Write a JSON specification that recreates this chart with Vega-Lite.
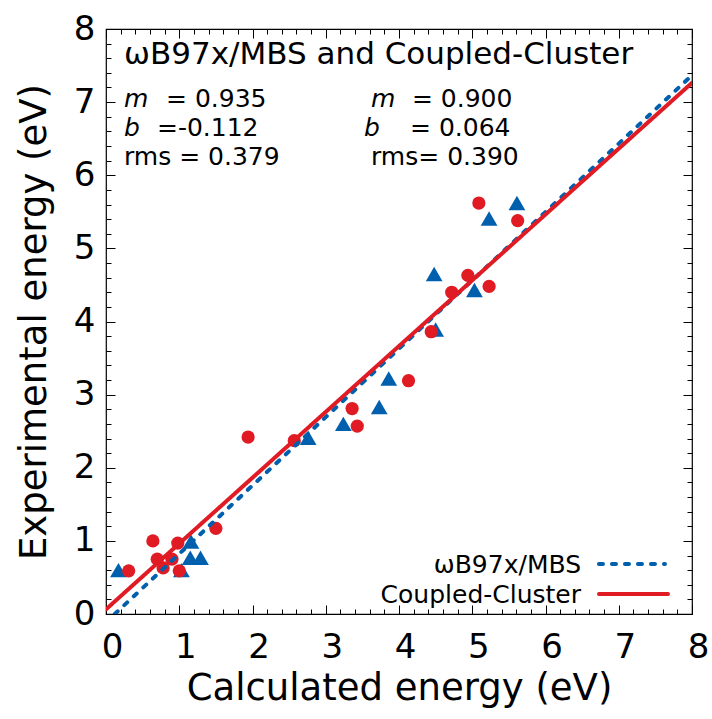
{
  "$schema": "https://vega.github.io/schema/vega-lite/v6.json",
  "width": 586,
  "height": 585,
  "autosize": {"type": "none"},
  "padding": {"left": 106, "top": 29, "right": 20, "bottom": 105},
  "background": "white",
  "config": {
    "font": "DejaVu Sans",
    "view": {"stroke": "#000", "strokeWidth": 1.2},
    "axis": {
      "domain": false, "grid": false, "tickColor": "#000", "tickWidth": 1,
      "labelColor": "#000", "titleColor": "#000", "labelFont": "DejaVu Sans", "titleFont": "DejaVu Sans",
      "labelFontSize": 34, "titleFontSize": 37, "titleFontWeight": "normal"
    },
    "text": {"font": "DejaVu Sans", "color": "#000"}
  },
  "data": {"values": [{}]},
  "datasets": {
    "points": [
      {"series": "ωB97x/MBS", "calc": 0.17, "exp": 0.60},
      {"series": "ωB97x/MBS", "calc": 1.03, "exp": 0.60},
      {"series": "ωB97x/MBS", "calc": 1.15, "exp": 0.77},
      {"series": "ωB97x/MBS", "calc": 1.29, "exp": 0.77},
      {"series": "ωB97x/MBS", "calc": 1.16, "exp": 0.99},
      {"series": "ωB97x/MBS", "calc": 2.76, "exp": 2.41},
      {"series": "ωB97x/MBS", "calc": 3.24, "exp": 2.60},
      {"series": "ωB97x/MBS", "calc": 3.73, "exp": 2.83},
      {"series": "ωB97x/MBS", "calc": 3.86, "exp": 3.22},
      {"series": "ωB97x/MBS", "calc": 4.50, "exp": 3.89},
      {"series": "ωB97x/MBS", "calc": 4.48, "exp": 4.65},
      {"series": "ωB97x/MBS", "calc": 5.03, "exp": 4.43},
      {"series": "ωB97x/MBS", "calc": 5.23, "exp": 5.41},
      {"series": "ωB97x/MBS", "calc": 5.61, "exp": 5.62},
      {"series": "Coupled-Cluster", "calc": 0.31, "exp": 0.59},
      {"series": "Coupled-Cluster", "calc": 0.64, "exp": 1.00},
      {"series": "Coupled-Cluster", "calc": 0.70, "exp": 0.75},
      {"series": "Coupled-Cluster", "calc": 0.78, "exp": 0.63},
      {"series": "Coupled-Cluster", "calc": 0.90, "exp": 0.75},
      {"series": "Coupled-Cluster", "calc": 0.98, "exp": 0.97},
      {"series": "Coupled-Cluster", "calc": 1.00, "exp": 0.59},
      {"series": "Coupled-Cluster", "calc": 1.50, "exp": 1.17},
      {"series": "Coupled-Cluster", "calc": 1.94, "exp": 2.42},
      {"series": "Coupled-Cluster", "calc": 2.57, "exp": 2.37},
      {"series": "Coupled-Cluster", "calc": 3.36, "exp": 2.81},
      {"series": "Coupled-Cluster", "calc": 3.43, "exp": 2.57},
      {"series": "Coupled-Cluster", "calc": 4.13, "exp": 3.19},
      {"series": "Coupled-Cluster", "calc": 4.44, "exp": 3.86},
      {"series": "Coupled-Cluster", "calc": 4.72, "exp": 4.40},
      {"series": "Coupled-Cluster", "calc": 4.94, "exp": 4.63},
      {"series": "Coupled-Cluster", "calc": 5.23, "exp": 4.48},
      {"series": "Coupled-Cluster", "calc": 5.09, "exp": 5.62},
      {"series": "Coupled-Cluster", "calc": 5.62, "exp": 5.38}
    ],
    "fits": [
      {"series": "ωB97x/MBS", "calc": 0.12, "exp": 0.0},
      {"series": "ωB97x/MBS", "calc": 8.0, "exp": 7.368},
      {"series": "Coupled-Cluster", "calc": 0.0, "exp": 0.064},
      {"series": "Coupled-Cluster", "calc": 8.0, "exp": 7.264}
    ]
  },
  "layer": [
    {
      "data": {"name": "points"},
      "mark": {"type": "point", "filled": true, "opacity": 1, "strokeWidth": 0},
      "encoding": {
        "x": {"field": "calc", "type": "quantitative", "scale": {"domain": [0, 8], "nice": false, "zero": false},
          "axis": {"orient": "top", "labels": false, "title": null, "values": [0,1,2,3,4,5,6,7,8], "tickSize": -9}},
        "y": {"field": "exp", "type": "quantitative", "scale": {"domain": [0, 8], "nice": false, "zero": false},
          "axis": {"orient": "right", "labels": false, "title": null, "values": [0,1,2,3,4,5,6,7,8], "tickSize": -9}},
        "fill": {"field": "series", "type": "nominal", "scale": {"range": ["#e01b24", "#0060ad"]}, "legend": null},
        "shape": {"field": "series", "type": "nominal", "scale": {"range": ["circle", "triangle-up"]}, "legend": null},
        "size": {"field": "series", "type": "ordinal", "scale": {"range": [175, 280]}, "legend": null}
      }
    },
    {
      "data": {"name": "fits"},
      "mark": {"type": "line", "strokeWidth": 4, "strokeCap": "round", "clip": true},
      "encoding": {
        "x": {"field": "calc", "type": "quantitative", "scale": {"domain": [0, 8], "nice": false, "zero": false},
          "axis": {"orient": "bottom", "title": "Calculated energy (eV)", "values": [0,1,2,3,4,5,6,7,8], "tickSize": -9, "labelPadding": 25, "labelOffset": 6, "labelFlush": false, "labelOverlap": false, "titlePadding": 6}},
        "y": {"field": "exp", "type": "quantitative", "scale": {"domain": [0, 8], "nice": false, "zero": false},
          "axis": {"orient": "left", "title": "Experimental energy (eV)", "values": [0,1,2,3,4,5,6,7,8], "tickSize": -9, "labelPadding": 20, "labelFlush": false, "labelOverlap": false, "titlePadding": 20}},
        "stroke": {"field": "series", "type": "nominal", "scale": {"domain": ["ωB97x/MBS", "Coupled-Cluster"], "range": ["#0060ad", "#e01b24"]}, "legend": null},
        "strokeDash": {"field": "series", "type": "nominal", "scale": {"domain": ["ωB97x/MBS", "Coupled-Cluster"], "range": [[4, 9], [1, 0]]}, "legend": null}
      }
    },
    {
      "mark": {"type": "rule", "stroke": "#0060ad", "strokeWidth": 4, "strokeCap": "round", "strokeDash": [4, 9]},
      "encoding": {
        "x": {"datum": 6.73, "type": "quantitative", "scale": {"domain": [0, 8]}, "axis": null},
        "x2": {"datum": 7.631},
        "y": {"datum": 0.684, "type": "quantitative", "scale": {"domain": [0, 8]}, "axis": null}
      }
    },
    {
      "mark": {"type": "rule", "stroke": "#e01b24", "strokeWidth": 4, "strokeCap": "round"},
      "encoding": {
        "x": {"datum": 6.73, "type": "quantitative", "scale": {"domain": [0, 8]}, "axis": null},
        "x2": {"datum": 7.672},
        "y": {"datum": 0.274, "type": "quantitative", "scale": {"domain": [0, 8]}, "axis": null}
      }
    },
    {
      "mark": {"type": "text", "text": "ωB97x/MBS", "fontSize": 25, "align": "right", "baseline": "alphabetic"},
      "encoding": {
        "x": {"datum": 6.485, "type": "quantitative", "scale": {"domain": [0, 8]}, "axis": null},
        "y": {"datum": 0.561, "type": "quantitative", "scale": {"domain": [0, 8]}, "axis": null}
      }
    },
    {
      "mark": {"type": "text", "text": "Coupled-Cluster", "fontSize": 25, "align": "right", "baseline": "alphabetic"},
      "encoding": {
        "x": {"datum": 6.485, "type": "quantitative", "scale": {"domain": [0, 8]}, "axis": null},
        "y": {"datum": 0.15, "type": "quantitative", "scale": {"domain": [0, 8]}, "axis": null}
      }
    },
    {
      "mark": {"type": "text", "text": "ωB97x/MBS and Coupled-Cluster", "fontSize": 31, "align": "left", "baseline": "alphabetic"},
      "encoding": {
        "x": {"datum": 0.246, "type": "quantitative", "scale": {"domain": [0, 8], "nice": false, "zero": false},
          "axis": {"orient": "bottom", "labels": false, "title": null, "values": [0.2,0.4,0.6,0.8,1.2,1.4,1.6,1.8,2.2,2.4,2.6,2.8,3.2,3.4,3.6,3.8,4.2,4.4,4.6,4.8,5.2,5.4,5.6,5.8,6.2,6.4,6.6,6.8,7.2,7.4,7.6,7.8], "tickSize": -5}},
        "y": {"datum": 7.52, "type": "quantitative", "scale": {"domain": [0, 8], "nice": false, "zero": false},
          "axis": {"orient": "left", "labels": false, "title": null, "values": [0.2,0.4,0.6,0.8,1.2,1.4,1.6,1.8,2.2,2.4,2.6,2.8,3.2,3.4,3.6,3.8,4.2,4.4,4.6,4.8,5.2,5.4,5.6,5.8,6.2,6.4,6.6,6.8,7.2,7.4,7.6,7.8], "tickSize": -5}}
      }
    },
    {
      "mark": {"type": "text", "text": "m", "fontStyle": "italic", "fontSize": 25, "align": "left", "baseline": "alphabetic"},
      "encoding": {
        "x": {"datum": 0.246, "type": "quantitative", "scale": {"domain": [0, 8], "nice": false, "zero": false},
          "axis": {"orient": "top", "labels": false, "title": null, "values": [0.2,0.4,0.6,0.8,1.2,1.4,1.6,1.8,2.2,2.4,2.6,2.8,3.2,3.4,3.6,3.8,4.2,4.4,4.6,4.8,5.2,5.4,5.6,5.8,6.2,6.4,6.6,6.8,7.2,7.4,7.6,7.8], "tickSize": -5}},
        "y": {"datum": 6.935, "type": "quantitative", "scale": {"domain": [0, 8], "nice": false, "zero": false},
          "axis": {"orient": "right", "labels": false, "title": null, "values": [0.2,0.4,0.6,0.8,1.2,1.4,1.6,1.8,2.2,2.4,2.6,2.8,3.2,3.4,3.6,3.8,4.2,4.4,4.6,4.8,5.2,5.4,5.6,5.8,6.2,6.4,6.6,6.8,7.2,7.4,7.6,7.8], "tickSize": -5}}
      }
    },
    {
      "mark": {"type": "text", "text": "= 0.935", "fontSize": 25, "align": "left", "baseline": "alphabetic"},
      "encoding": {
        "x": {"datum": 0.819, "type": "quantitative", "scale": {"domain": [0, 8]}, "axis": null},
        "y": {"datum": 6.935, "type": "quantitative", "scale": {"domain": [0, 8]}, "axis": null}
      }
    },
    {
      "mark": {"type": "text", "text": "m", "fontStyle": "italic", "fontSize": 25, "align": "left", "baseline": "alphabetic"},
      "encoding": {
        "x": {"datum": 3.618, "type": "quantitative", "scale": {"domain": [0, 8]}, "axis": null},
        "y": {"datum": 6.935, "type": "quantitative", "scale": {"domain": [0, 8]}, "axis": null}
      }
    },
    {
      "mark": {"type": "text", "text": "= 0.900", "fontSize": 25, "align": "left", "baseline": "alphabetic"},
      "encoding": {
        "x": {"datum": 4.177, "type": "quantitative", "scale": {"domain": [0, 8]}, "axis": null},
        "y": {"datum": 6.935, "type": "quantitative", "scale": {"domain": [0, 8]}, "axis": null}
      }
    },
    {
      "mark": {"type": "text", "text": "b", "fontStyle": "italic", "fontSize": 25, "align": "left", "baseline": "alphabetic"},
      "encoding": {
        "x": {"datum": 0.246, "type": "quantitative", "scale": {"domain": [0, 8]}, "axis": null},
        "y": {"datum": 6.54, "type": "quantitative", "scale": {"domain": [0, 8]}, "axis": null}
      }
    },
    {
      "mark": {"type": "text", "text": "=-0.112", "fontSize": 25, "align": "left", "baseline": "alphabetic"},
      "encoding": {
        "x": {"datum": 0.696, "type": "quantitative", "scale": {"domain": [0, 8]}, "axis": null},
        "y": {"datum": 6.54, "type": "quantitative", "scale": {"domain": [0, 8]}, "axis": null}
      }
    },
    {
      "mark": {"type": "text", "text": "b", "fontStyle": "italic", "fontSize": 25, "align": "left", "baseline": "alphabetic"},
      "encoding": {
        "x": {"datum": 3.522, "type": "quantitative", "scale": {"domain": [0, 8]}, "axis": null},
        "y": {"datum": 6.54, "type": "quantitative", "scale": {"domain": [0, 8]}, "axis": null}
      }
    },
    {
      "mark": {"type": "text", "text": "= 0.064", "fontSize": 25, "align": "left", "baseline": "alphabetic"},
      "encoding": {
        "x": {"datum": 4.15, "type": "quantitative", "scale": {"domain": [0, 8]}, "axis": null},
        "y": {"datum": 6.54, "type": "quantitative", "scale": {"domain": [0, 8]}, "axis": null}
      }
    },
    {
      "mark": {"type": "text", "text": "rms = 0.379", "fontSize": 25, "align": "left", "baseline": "alphabetic"},
      "encoding": {
        "x": {"datum": 0.246, "type": "quantitative", "scale": {"domain": [0, 8]}, "axis": null},
        "y": {"datum": 6.142, "type": "quantitative", "scale": {"domain": [0, 8]}, "axis": null}
      }
    },
    {
      "mark": {"type": "text", "text": "rms= 0.390", "fontSize": 25, "align": "left", "baseline": "alphabetic"},
      "encoding": {
        "x": {"datum": 3.618, "type": "quantitative", "scale": {"domain": [0, 8]}, "axis": null},
        "y": {"datum": 6.142, "type": "quantitative", "scale": {"domain": [0, 8]}, "axis": null}
      }
    }
  ],
  "resolve": {"axis": {"x": "independent", "y": "independent"}}
}
